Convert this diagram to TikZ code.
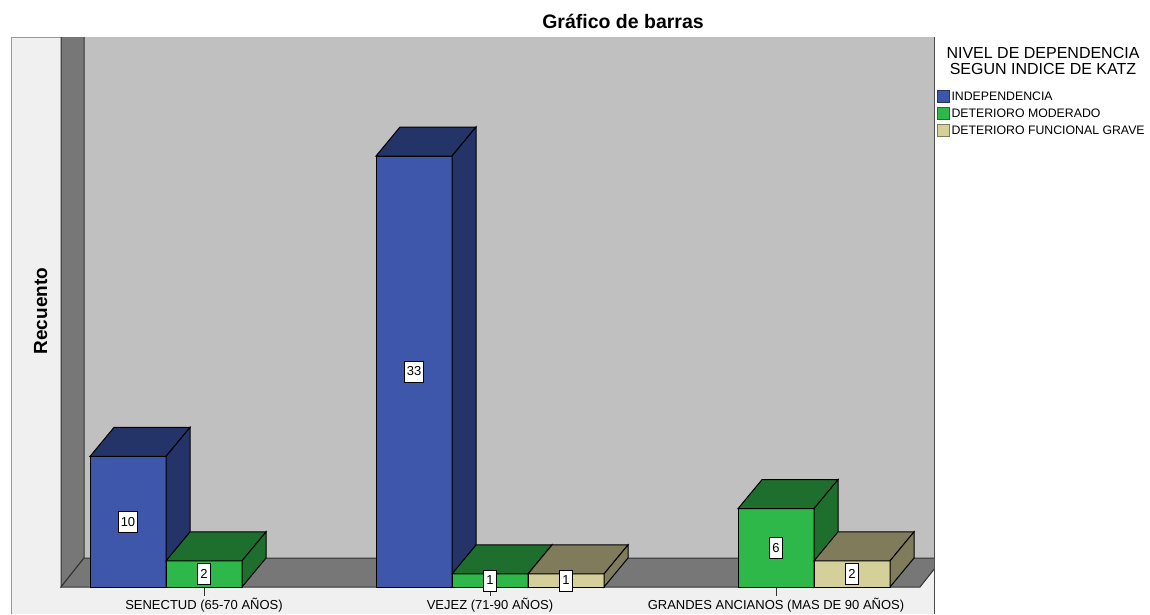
\documentclass[tikz,border=0pt]{standalone}
\usepackage{fontspec}
\setmainfont{Liberation Sans}
\definecolor{blau}{HTML}{3E57AB}
\definecolor{blaudunkel}{HTML}{253468}
\definecolor{gruen}{HTML}{2EB84A}
\definecolor{gruendunkel}{HTML}{1E6F2E}
\definecolor{beige}{HTML}{D5CF9A}
\definecolor{beigedunkel}{HTML}{807C5B}
\definecolor{wand}{HTML}{C0C0C0}
\definecolor{boden}{HTML}{777777}
\definecolor{rahmen}{HTML}{F0F0F0}
\tikzset{
  wert/.style={draw, fill=white, line width=0.8pt, inner xsep=2.5pt, inner ysep=0pt,
    minimum height=21pt, font=\fontsize{13}{13}\selectfont},
  kasten/.style={minimum size=12pt, inner sep=0pt, line width=1pt},
  eintrag/.style={anchor=base west, inner sep=0pt, font=\fontsize{12.3}{12}\selectfont},
}

\begin{document}
\begin{tikzpicture}[x=1pt, y=-1pt, line width=1pt]
  \useasboundingbox (0,0) rectangle (1150,614);
  % Rahmen
  \fill[rahmen] (11,37) rectangle (934,614);
  \draw[black!40] (11,614) -- (11,37) -- (934,37);
  \draw[black!70] (934,37) -- (934,614);
  % Rueckwand und Seitenwand
  \fill[wand] (84,37) rectangle (934,558);
  \begin{scope}
    \clip (11,37) rectangle (934,614);
    \draw[fill=boden, draw=black!80] (61,37) -- (61,587) -- (84,558) -- (84,37);
    % Boden
    \draw[fill=boden, draw=black!80] (61,587) -- (920,587) -- (943,558) -- (84,558) -- cycle;
  \end{scope}
  % Achse mit Strichen
  \foreach \c/\txt [count=\i] in {204/SENECTUD (65-70 AÑOS), 490/VEJEZ (71-90 AÑOS),
      776/GRANDES ANCIANOS (MAS DE 90 AÑOS)} {
    \coordinate (t\i) at (\c,587);
    \draw[black!80] (t\i) -- ++(0,9);
    \node[anchor=base, inner sep=0pt, font=\fontsize{13}{13}\selectfont] (kat\i) at (\c,609) {\txt};
  }
  % Balken
  \foreach \x/\n/\f/\d in {90/10/blau/blaudunkel, 166/2/gruen/gruendunkel,
      376/33/blau/blaudunkel, 452/1/gruen/gruendunkel, 528/1/beige/beigedunkel,
      738/6/gruen/gruendunkel, 814/2/beige/beigedunkel} {
    \pgfmathsetmacro\t{587-13.06*\n}
    \draw[fill=\f] (\x,587) rectangle (\x+76,\t);
    \draw[fill=\d] (\x,\t) -- (\x+24,\t-29) -- (\x+100,\t-29) -- (\x+76,\t) -- cycle;
    \draw[fill=\d] (\x+76,\t) -- (\x+100,\t-29) -- (\x+100,558) -- (\x+76,587) -- cycle;
    \node[wert] (w\x) at (\x+38,{(\t+587)/2}) {\n};
  }
  % Titel und Achsenbeschriftung
  \node[anchor=base, inner sep=0pt, font=\fontsize{19.5}{20}\bfseries\selectfont] (titel) at (623,28) {Gráfico de barras};
  \node[anchor=base, rotate=90, inner sep=0pt, font=\fontsize{19}{20}\bfseries\selectfont] (ylab) at (47,311) {Recuento};
  % Legende
  \node[anchor=north, align=center, inner sep=0pt, font=\fontsize{16}{15.5}\selectfont] (legtitel) at (1043,47)
    {NIVEL DE DEPENDENCIA\\SEGUN INDICE DE KATZ};
  \foreach \y/\f/\d/\txt [count=\i] in {96/blau/blaudunkel/INDEPENDENCIA,
      113/gruen/gruendunkel/DETERIORO MODERADO,
      130/beige/beigedunkel/DETERIORO FUNCIONAL GRAVE} {
    \node[kasten, draw=\d, fill=\f] (q\i) at (943,\y) {};
    \node[eintrag] (leg\i) at (951,\y+4.5) {\txt};
  }
\end{tikzpicture}
\end{document}
